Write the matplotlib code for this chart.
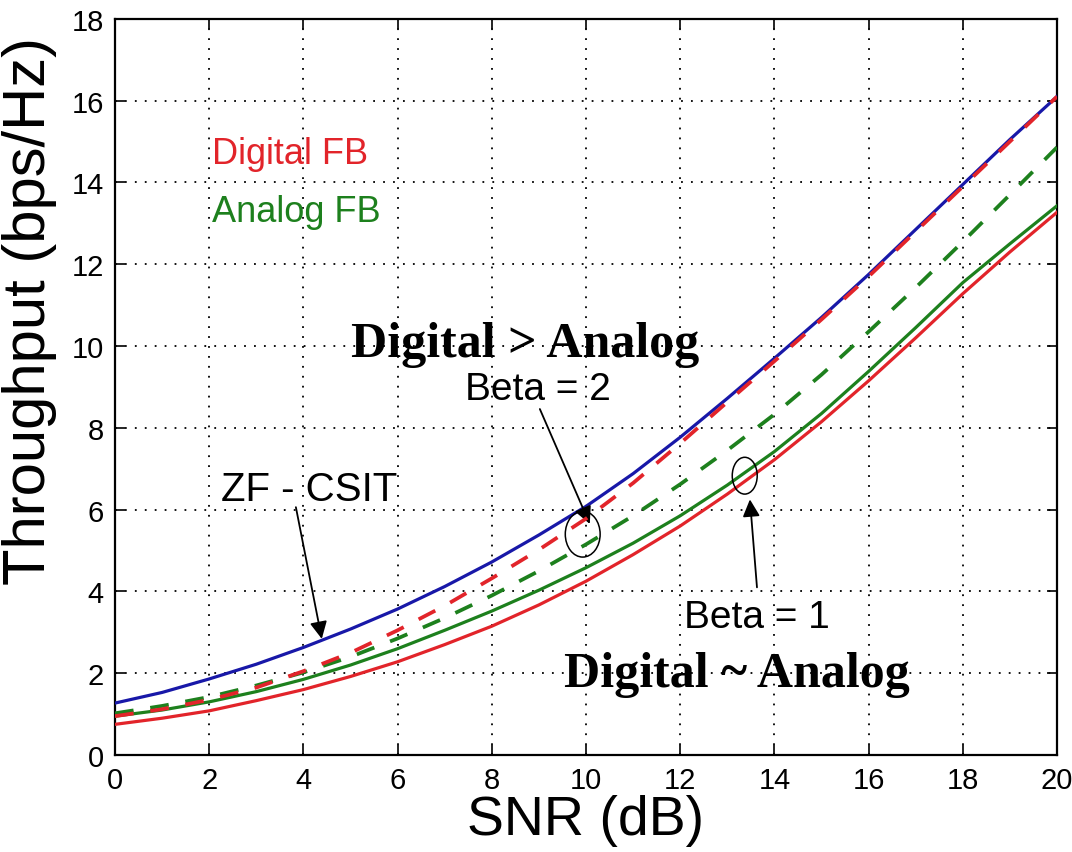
import matplotlib
matplotlib.use("Agg")
import matplotlib.pyplot as plt
from matplotlib.patches import Ellipse
from matplotlib import font_manager

snr = list(range(0, 21))
zf_csit = [1.27, 1.53, 1.86, 2.22, 2.63, 3.08, 3.57, 4.12, 4.72, 5.38, 6.08,
           6.88, 7.77, 8.72, 9.7, 10.7, 11.75, 12.85, 13.95, 15.05, 16.1]
digital_b2 = [0.95, 1.12, 1.35, 1.65, 2.05, 2.5, 3.05, 3.65, 4.32, 5.02, 5.78,
              6.65, 7.62, 8.63, 9.63, 10.65, 11.7, 12.8, 13.9, 15.0, 16.1]
analog_b2 = [1.02, 1.2, 1.42, 1.7, 2.02, 2.4, 2.85, 3.35, 3.9, 4.5, 5.15,
             5.85, 6.62, 7.45, 8.33, 9.3, 10.35, 11.43, 12.55, 13.7, 14.86]
analog_b1 = [0.95, 1.1, 1.3, 1.55, 1.85, 2.2, 2.6, 3.05, 3.52, 4.03, 4.58,
             5.18, 5.85, 6.6, 7.42, 8.35, 9.38, 10.45, 11.55, 12.5, 13.43]
digital_b1 = [0.75, 0.9, 1.08, 1.33, 1.6, 1.92, 2.28, 2.7, 3.15, 3.67, 4.25,
              4.9, 5.6, 6.38, 7.22, 8.15, 9.15, 10.2, 11.28, 12.3, 13.27]

xticks = list(range(0, 21, 2))
yticks = list(range(0, 19, 2))

installed = {f.name for f in font_manager.fontManager.ttflist}
tick_font = [f for f in ['Liberation Sans Narrow', 'Liberation Sans', 'DejaVu Sans'] if f in installed]
sans = ['Liberation Sans', 'DejaVu Sans']
serif = ['Liberation Serif', 'DejaVu Serif']

BLUE = '#1818a8'
RED = '#e2242a'
GREEN = '#1d801d'

fig = plt.figure(figsize=(10.72, 8.53), dpi=100)
ax = fig.add_axes([0.1073, 0.1137, 0.8787, 0.863])

lw = 2.3
dash = (0, (5, 4.5))
ax.plot(snr, zf_csit, color=BLUE, lw=lw, zorder=3)
ax.plot(snr, analog_b1, color=GREEN, lw=lw, zorder=3)
ax.plot(snr, digital_b1, color=RED, lw=lw, zorder=3)
ax.plot(snr, analog_b2, color=GREEN, lw=lw + 0.4, ls=dash, zorder=4)
ax.plot(snr, digital_b2, color=RED, lw=lw + 0.4, ls=dash, zorder=4)

ax.set_xlim(0, 20)
ax.set_ylim(0, 18)
ax.set_xticks(xticks)
ax.set_yticks(yticks)
ax.grid(True, color='black', ls=(0, (1, 4.5)), lw=1.3)
ax.tick_params(direction='in', length=7, width=1.2, top=True, right=True,
               labelsize=21, pad=8)
for lab in ax.get_xticklabels() + ax.get_yticklabels():
    lab.set_family(tick_font)
for sp in ax.spines.values():
    sp.set_linewidth(1.6)

ax.set_xlabel('SNR (dB)', fontsize=40, family=sans, labelpad=0)
ax.set_ylabel('Throughput (bps/Hz)', fontsize=43, family=sans)
ax.yaxis.set_label_coords(-0.062, 0.605)

ax.text(2.06, 14.7, 'Digital FB', color=RED, fontsize=26, family=sans,
        va='center', ha='left')
ax.text(2.06, 13.28, 'Analog FB', color=GREEN, fontsize=26, family=sans,
        va='center', ha='left')
ax.text(8.7, 10.05, 'Digital > Analog', fontsize=36, family=serif,
        weight='bold', va='center', ha='center')
ax.text(8.98, 8.95, 'Beta = 2', fontsize=28, family=sans, va='center', ha='center')
ax.text(4.12, 6.5, 'ZF - CSIT', fontsize=29, family=sans, va='center', ha='center')
ax.text(13.63, 3.37, 'Beta = 1', fontsize=28, family=sans, va='center', ha='center')
ax.text(13.2, 1.98, 'Digital ~ Analog', fontsize=36, family=serif,
        weight='bold', va='center', ha='center')

arrow = dict(arrowstyle='-|>', color='black', lw=1.3, mutation_scale=26,
             shrinkA=0, shrinkB=0)
ax.annotate('', xy=(4.39, 2.84), xytext=(3.84, 6.06), arrowprops=arrow)
ax.annotate('', xy=(10.08, 5.65), xytext=(9.02, 8.46), arrowprops=arrow)
ax.annotate('', xy=(13.48, 6.25), xytext=(13.63, 4.1), arrowprops=arrow)

ax.add_patch(Ellipse((9.93, 5.4), 0.74, 1.12, fill=False, ec='black', lw=1.1, zorder=5))
ax.add_patch(Ellipse((13.37, 6.83), 0.53, 0.9, fill=False, ec='black', lw=1.1, zorder=5))

fig.savefig('out.png', dpi=100)
